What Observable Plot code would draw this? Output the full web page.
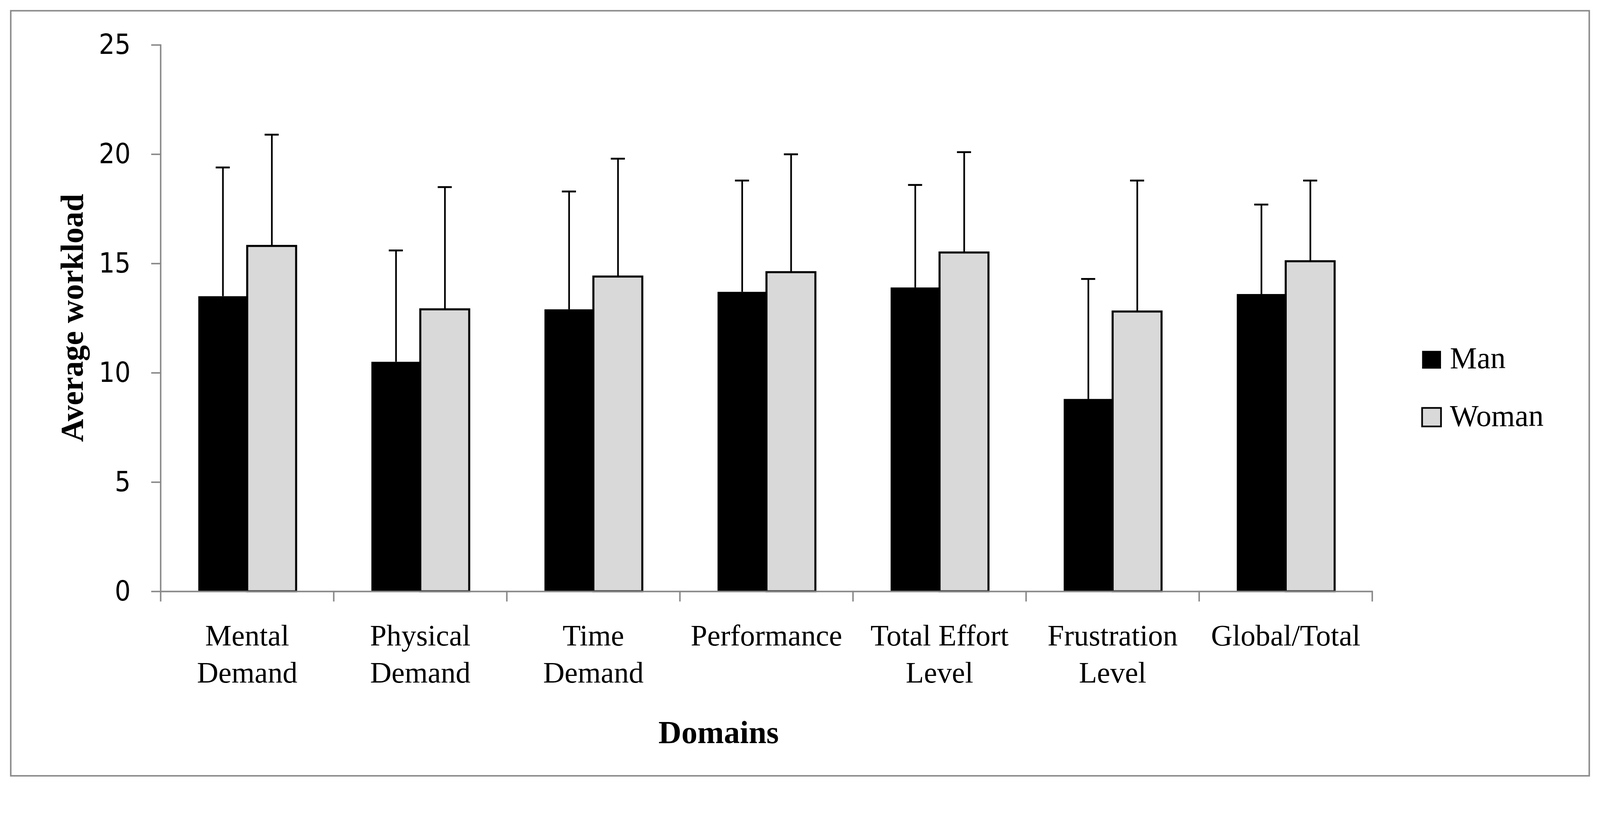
<!DOCTYPE html>
<html>
<head>
<meta charset="utf-8">
<script src="https://cdn.jsdelivr.net/npm/d3@7"></script>
<script src="https://cdn.jsdelivr.net/npm/@observablehq/plot@0.6"></script>
<style>
  html, body { margin: 0; padding: 0; background: #fff; overflow: hidden; }
  #wrap { position: relative; width: 4317px; height: 2123px; transform-origin: 0 0; }
  #wrap > svg { position: absolute; left: 0; top: 0; }
</style>
</head>
<body>
<div id="wrap"></div>
<script>
// ---- data ----
const domains = ["Mental Demand", "Physical Demand", "Time Demand", "Performance", "Total Effort Level", "Frustration Level", "Global/Total"];
const domainLabels = ["Mental\nDemand", "Physical\nDemand", "Time\nDemand", "Performance", "Total Effort\nLevel", "Frustration\nLevel", "Global/Total"];
const groups = ["Man", "Woman"];
const manMean = [13.5, 10.5, 12.9, 13.7, 13.9, 8.8, 13.6];
const manSD = [5.9, 5.1, 5.4, 5.1, 4.7, 5.5, 4.1];
const womanMean = [15.8, 12.9, 14.4, 14.6, 15.5, 12.8, 15.1];
const womanSD = [5.1, 5.6, 5.4, 5.4, 4.6, 6.0, 3.7];
const yTicks = [0, 5, 10, 15, 20, 25];
const yLabel = "Average workload";
const xLabel = "Domains";

const rows = [];
domains.forEach((d, i) => {
  rows.push({domain: d, sex: "Man", mean: manMean[i], upper: manMean[i] + manSD[i]});
  rows.push({domain: d, sex: "Woman", mean: womanMean[i], upper: womanMean[i] + womanSD[i]});
});

const W = 4317, H = 2123;
const mL = 432, mR = 615, mT = 121, mB = 527;
const innerH = H - mT - mB;
const gray = "#898989";
const labelOf = new Map(domains.map((d, i) => [d, domainLabels[i]]));

const chart = Plot.plot({
  width: W,
  height: H,
  marginLeft: mL,
  marginRight: mR,
  marginTop: mT,
  marginBottom: mB,
  style: {background: "transparent", overflow: "visible", maxWidth: "none"},
  fx: {domain: domains, padding: 0, label: null},
  x: {domain: groups, paddingInner: 0, paddingOuter: 0.76, axis: null},
  y: {domain: [0, 25], label: null},
  color: {domain: groups, range: ["#000000", "#d9d9d9"]},
  marks: [
    Plot.ruleX(rows, {fx: "domain", x: "sex", y1: "mean", y2: "upper", stroke: "black", strokeWidth: 4.5}),
    Plot.tickY(rows, {fx: "domain", x: "sex", y: "upper", stroke: "black", strokeWidth: 5, insetLeft: 47, insetRight: 47}),
    Plot.barY(rows.filter(r => r.sex === "Man"), {fx: "domain", x: "sex", y: "mean", fill: "sex"}),
    Plot.barY(rows.filter(r => r.sex === "Woman"), {fx: "domain", x: "sex", y: "mean", fill: "sex", stroke: "black", strokeWidth: 5.5}),
    Plot.ruleY([0], {stroke: gray, strokeWidth: 4}),
    Plot.frame({anchor: "left", fx: domains[0], stroke: gray, strokeWidth: 4}),
    Plot.frame({anchor: "left", stroke: gray, strokeWidth: 4, insetTop: innerH, insetBottom: -25}),
    Plot.frame({anchor: "right", fx: domains[domains.length - 1], stroke: gray, strokeWidth: 4, insetTop: innerH, insetBottom: -25}),
    Plot.axisY({ticks: yTicks, tickSize: 25, tickPadding: 56, stroke: gray, strokeWidth: 4, fill: "black",
      fontSize: 75, fontFamily: "'Liberation Sans Narrow', 'DejaVu Sans Condensed', 'Liberation Sans', sans-serif", label: null}),
    Plot.axisFx({anchor: "bottom", tickSize: 0, tickPadding: 75, fontSize: 80, lineHeight: 1.25,
      fontFamily: "'Liberation Serif', serif", fill: "black", tickFormat: d => labelOf.get(d), label: null})
  ]
});

const wrap = document.getElementById("wrap");
wrap.appendChild(chart);

// ---- overlay: outer border, axis titles and legend ----
const ov = d3.create("svg").attr("width", W).attr("height", H).attr("viewBox", `0 0 ${W} ${H}`);
ov.append("rect").attr("x", 29).attr("y", 29).attr("width", 4259).attr("height", 2065)
  .attr("fill", "none").attr("stroke", gray).attr("stroke-width", 4);

ov.append("text").text(yLabel)
  .attr("transform", "translate(223,858) rotate(-90)")
  .attr("text-anchor", "middle").attr("font-family", "'Liberation Serif', serif")
  .attr("font-weight", "bold").attr("font-size", 86).attr("fill", "black");

ov.append("text").text(xLabel)
  .attr("x", 1939).attr("y", 2006)
  .attr("text-anchor", "middle").attr("font-family", "'Liberation Serif', serif")
  .attr("font-weight", "bold").attr("font-size", 86).attr("fill", "black");

const legendY = [947, 1101];
const legendBase = [994, 1150];
groups.forEach((g, i) => {
  const r = ov.append("rect").attr("x", 3837).attr("y", legendY[i]).attr("width", 51).attr("height", i === 0 ? 48 : 50)
    .attr("fill", i === 0 ? "#000000" : "#d9d9d9");
  if (i === 1) r.attr("stroke", "black").attr("stroke-width", 4.5);
  ov.append("text").text(g).attr("x", 3912).attr("y", legendBase[i])
    .attr("font-family", "'Liberation Serif', serif").attr("font-size", 82).attr("fill", "black");
});
wrap.appendChild(ov.node());

// fit the figure to the actual viewport
function fit() {
  const vw = document.documentElement.clientWidth || window.innerWidth;
  const vh = document.documentElement.clientHeight || window.innerHeight;
  const s = Math.min(vw / W, vh / H);
  wrap.style.transform = s < 0.999 || s > 1.001 ? `scale(${s})` : "none";
}
fit();
window.addEventListener("resize", fit);
</script>
</body>
</html>
